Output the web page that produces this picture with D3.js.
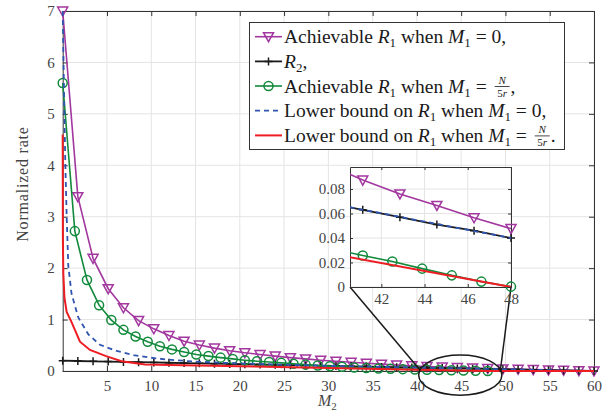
<!DOCTYPE html>
<meta charset="utf-8">
<style>
body { margin: 0; background: #fff; }
text { font-family: 'Liberation Serif', 'DejaVu Serif', serif; white-space: pre; }
</style>
<body>
<svg width="607" height="414"></svg>
<script src="https://d3js.org/d3.v7.min.js"></script>
<script>

// M2 samples of the triangle and R2 curves
var M2tri = [0, 1.71, 3.43, 5.14, 6.86, 8.57, 10.29, 12, 13.71, 15.43, 17.14, 18.86,
  20.57, 22.29, 24, 25.71, 27.43, 29.14, 30.86, 32.57, 34.29, 36, 37.71, 39.43,
  41.14, 42.86, 44.57, 46.29, 48, 49.71, 51.43, 53.14, 54.86, 56.57, 58.29, 60];
// achievable R1 when M1 = 0
var rateTri = [7.0, 3.39, 2.19, 1.60, 1.23, 0.98, 0.82, 0.69, 0.58, 0.505, 0.445, 0.395,
  0.355, 0.32, 0.29, 0.26, 0.235, 0.21, 0.19, 0.17, 0.15, 0.133, 0.117, 0.101,
  0.0873, 0.076, 0.0666, 0.0565, 0.0477, 0.041, 0.034, 0.027, 0.021, 0.014, 0.007, 0];
// R2
var rateR2 = [0.2, 0.194, 0.189, 0.183, 0.177, 0.171, 0.166, 0.16, 0.154, 0.149, 0.143, 0.137,
  0.131, 0.126, 0.12, 0.114, 0.109, 0.103, 0.097, 0.091, 0.086, 0.08, 0.074, 0.069,
  0.063, 0.057, 0.051, 0.046, 0.04, 0.034, 0.029, 0.023, 0.017, 0.011, 0.006, 0];

// achievable R1 when M1 = N/5r
var M2circ = [0, 1.37, 2.74, 4.11, 5.49, 6.86, 8.23, 9.6, 10.97, 12.34, 13.71, 15.09,
  16.46, 17.83, 19.2, 20.57, 21.94, 23.31, 24.69, 26.06, 27.43, 28.8, 30.17, 31.54,
  32.91, 34.29, 35.66, 37.03, 38.4, 39.77, 41.14, 42.51, 43.89, 45.26, 46.63, 48];
var rateCirc = [5.6, 2.72, 1.77, 1.28, 0.99, 0.80, 0.67, 0.57, 0.48, 0.42, 0.37, 0.32,
  0.29, 0.26, 0.235, 0.21, 0.19, 0.175, 0.158, 0.14, 0.124, 0.108, 0.094, 0.081,
  0.069, 0.058, 0.049, 0.042, 0.036, 0.031, 0.0257, 0.0208, 0.015, 0.0095, 0.0044, 0.0003];

// lower bound on R1 when M1 = 0
var M2lb0 = [0, 0.15, 0.3, 0.45, 0.63, 1.0, 1.76, 2.9, 4.2, 6.1, 8.0, 9.85, 11.7, 14.7,
  18, 22, 26, 30, 35, 40, 45, 48, 52, 56, 60];
var rateLb0 = [7.0, 5.4, 4.0, 3.0, 2.05, 1.5, 1.04, 0.71, 0.51, 0.39, 0.31, 0.26, 0.225, 0.185,
  0.16, 0.138, 0.118, 0.1, 0.083, 0.067, 0.05, 0.04, 0.027, 0.013, 0];

// lower bound on R1 when M1 = N/5r
var M2lb5 = [0, 0.02, 0.07, 0.2, 0.45, 1.0, 1.95, 3.08, 4.9, 6.65, 9.3, 13.6, 20, 30, 40, 48, 60];
var rateLb5 = [4.6, 2.6, 1.9, 1.42, 1.15, 0.95, 0.57, 0.41, 0.29, 0.19, 0.128, 0.113,
  0.092, 0.06, 0.026, 0, 0];

var xTicks = [5, 10, 15, 20, 25, 30, 35, 40, 45, 50, 55, 60];
var yTicks = [0, 1, 2, 3, 4, 5, 6, 7];
var insetXTicks = [42, 44, 46, 48];
var insetYTicks = [0, 0.02, 0.04, 0.06, 0.08];

var purple = "#a2379f", green = "#128a3c", blue = "#2f55b0", red = "#ee1d24", black = "#1a1a1a";

var series = [
  {xs: M2tri, ys: rateTri, color: purple, marker: "tri", width: 1.6},
  {xs: M2tri, ys: rateR2, color: black, marker: "plus", width: 1.8},
  {xs: M2circ, ys: rateCirc, color: green, marker: "circle", width: 1.6},
  {xs: M2lb0, ys: rateLb0, color: blue, dash: "5,4", width: 1.8},
  {xs: M2lb5, ys: rateLb5, color: red, width: 2}
];

var svg = d3.select("svg");
var axisColor = "#333", gridColor = "#e4e4e4", labelColor = "#444";

var x = d3.scaleLinear().domain([0, 60]).range([62.7, 594]);
var y = d3.scaleLinear().domain([0, 7]).range([371, 11]);

function markerD(type) {
  if (type == "tri") return "M-5,-4L5,-4L0,5Z";
  if (type == "plus") return "M-4,0H4M0,-4V4";
  return d3.symbol(d3.symbolCircle, 64)();
}

function drawSeries(g, sx, sy, clipId, keep) {
  series.forEach(function(s) {
    var pts = s.xs.map(function(v, i) { return [v, s.ys[i]]; });
    g.append("path").datum(pts)
      .attr("d", d3.line().x(function(p) { return sx(p[0]); }).y(function(p) { return sy(p[1]); }))
      .attr("fill", "none")
      .attr("stroke", s.color)
      .attr("stroke-width", s.width)
      .attr("stroke-dasharray", s.dash || null)
      .attr("clip-path", clipId ? "url(#" + clipId + ")" : null);
    if (s.marker) {
      g.selectAll(null).data(pts.filter(keep)).enter().append("path")
        .attr("transform", function(p) { return "translate(" + sx(p[0]) + "," + sy(p[1]) + ")"; })
        .attr("d", markerD(s.marker))
        .attr("fill", "none")
        .attr("stroke", s.color)
        .attr("stroke-width", 1.5);
    }
  });
}

// grid
var grid = svg.append("g");
grid.selectAll(null).data(xTicks).enter().append("line")
  .attr("x1", x).attr("x2", x).attr("y1", y(0)).attr("y2", y(7))
  .attr("stroke", gridColor);
grid.selectAll(null).data(yTicks).enter().append("line")
  .attr("y1", y).attr("y2", y).attr("x1", x(0)).attr("x2", x(60))
  .attr("stroke", gridColor);

// axes box with inward ticks
function boxAxes(g, sx, sy, xt, yt, tl, fs, xOff, yOff, fmt) {
  var r = sx.range(), b = sy.range();
  g.append("g").attr("transform", "translate(0," + b[0] + ")")
    .call(d3.axisBottom(sx).tickValues(xt).tickSizeInner(-tl).tickSizeOuter(0).tickPadding(xOff));
  g.append("g").attr("transform", "translate(0," + b[1] + ")")
    .call(d3.axisTop(sx).tickValues(xt).tickSizeInner(-tl).tickSizeOuter(0).tickFormat(""));
  g.append("g").attr("transform", "translate(" + r[0] + ",0)")
    .call(d3.axisLeft(sy).tickValues(yt).tickSizeInner(-tl).tickSizeOuter(0).tickPadding(yOff).tickFormat(fmt));
  g.append("g").attr("transform", "translate(" + r[1] + ",0)")
    .call(d3.axisRight(sy).tickValues(yt).tickSizeInner(-tl).tickSizeOuter(0).tickFormat(""));
  g.selectAll("g").attr("font-family", null);
  g.selectAll(".domain").attr("stroke", axisColor);
  g.selectAll(".tick line").attr("stroke", axisColor);
  g.selectAll(".tick text").attr("fill", labelColor).style("font-size", fs + "px");
}

var mainAxes = svg.append("g");
boxAxes(mainAxes, x, y, xTicks, yTicks, 5, 15, 9, 8, d3.format("d"));

var plot = svg.append("g");
drawSeries(plot, x, y, null, function() { return true; });

// axis titles
svg.append("text")
  .attr("transform", "translate(28,184) rotate(-90)")
  .attr("text-anchor", "middle")
  .attr("fill", labelColor)
  .style("font-size", "16px")
  .style("letter-spacing", "0.8px")
  .text("Normalized rate");

var xl = svg.append("text")
  .attr("x", 318).attr("y", 406)
  .attr("fill", labelColor)
  .style("font-size", "16px");
xl.append("tspan").style("font-style", "italic").text("M");
xl.append("tspan").attr("dy", 4).style("font-size", "11px").text("2");

// zoom ellipse and connectors
svg.append("ellipse")
  .attr("cx", x(44.9)).attr("cy", y(-0.08))
  .attr("rx", x(4.7) - x(0)).attr("ry", y(0) - y(0.39))
  .attr("fill", "none").attr("stroke", black).attr("stroke-width", 1.5);

// inset
var ix = d3.scaleLinear().domain([40.55, 48]).range([350, 511]);
var iy = d3.scaleLinear().domain([0, 0.098]).range([287, 167]);

svg.append("line")
  .attr("x1", ix(40.55)).attr("y1", iy(0)).attr("x2", x(40.35)).attr("y2", y(0.02))
  .attr("stroke", black).attr("stroke-width", 1.5);
svg.append("line")
  .attr("x1", ix(48)).attr("y1", iy(0)).attr("x2", x(49.4)).attr("y2", y(-0.02))
  .attr("stroke", black).attr("stroke-width", 1.5);

var inset = svg.append("g");
inset.append("rect")
  .attr("x", 350).attr("y", 167).attr("width", 161).attr("height", 120)
  .attr("fill", "#fff");
svg.append("clipPath").attr("id", "insetClip").append("rect")
  .attr("x", 350).attr("y", 167).attr("width", 161).attr("height", 120);
inset.selectAll(null).data(insetXTicks).enter().append("line")
  .attr("x1", ix).attr("x2", ix).attr("y1", 287).attr("y2", 167).attr("stroke", gridColor);
inset.selectAll(null).data(insetYTicks).enter().append("line")
  .attr("y1", iy).attr("y2", iy).attr("x1", 350).attr("x2", 511).attr("stroke", gridColor);
boxAxes(inset, ix, iy, insetXTicks, insetYTicks, 3, 15, 6, 5, function(d) { return d == 0 ? "0" : d3.format(".2f")(d); });
drawSeries(inset, ix, iy, "insetClip", function(p) { return p[0] >= 40.55 && p[0] <= 48.01; });

// legend
var lg = svg.append("g");
lg.append("rect")
  .attr("x", 249.5).attr("y", 22.5).attr("width", 315).attr("height", 127)
  .attr("fill", "#fff").attr("stroke", axisColor);

var legendRows = [
  [["Achievable "], ["R", "i"], ["1", "s"], [" when "], ["M", "i"], ["1", "s"], [" = 0,"]],
  [["R", "i"], ["2", "s"], [","]],
  [["Achievable "], ["R", "i"], ["1", "s"], [" when "], ["M", "i"], ["1", "s"], [" = "], ["frac"], [","]],
  [["Lower bound on "], ["R", "i"], ["1", "s"], [" when "], ["M", "i"], ["1", "s"], [" = 0,"]],
  [["Lower bound on "], ["R", "i"], ["1", "s"], [" when "], ["M", "i"], ["1", "s"], [" = "], ["frac"], ["."]]
];
var rowY = [36.7, 61.4, 86, 110.7, 135.4];

series.forEach(function(s, i) {
  var cy = rowY[i];
  lg.append("line").attr("x1", 255).attr("x2", 282).attr("y1", cy).attr("y2", cy)
    .attr("stroke", s.color).attr("stroke-width", s.width).attr("stroke-dasharray", s.dash || null);
  if (s.marker) {
    lg.append("path").attr("transform", "translate(268.5," + cy + ")")
      .attr("d", markerD(s.marker)).attr("fill", "none").attr("stroke", s.color).attr("stroke-width", 1.5);
  }
  var t = lg.append("text").attr("x", 284).attr("y", cy + 6.5)
    .attr("fill", black).style("font-size", "19.5px");
  var shift = 0, parts = legendRows[i];
  for (var j = 0; j < parts.length; j++) {
    var p = parts[j];
    if (p[0] == "frac") {
      // stacked N over 5r
      var x0 = 284 + t.node().getComputedTextLength() + 3;
      var fg = lg.append("g");
      fg.append("text").attr("x", x0 + 7.5).attr("y", cy - 2).attr("text-anchor", "middle")
        .attr("fill", black).style("font-size", "11px").style("font-style", "italic").text("N");
      var td = fg.append("text").attr("x", x0 + 7.5).attr("y", cy + 11).attr("text-anchor", "middle")
        .attr("fill", black).style("font-size", "11px");
      td.append("tspan").text("5");
      td.append("tspan").style("font-style", "italic").text("r");
      fg.append("line").attr("x1", x0).attr("x2", x0 + 15).attr("y1", cy + 0.5).attr("y2", cy + 0.5)
        .attr("stroke", black).attr("stroke-width", 0.8);
      var rest = parts.slice(j + 1).map(function(q) { return q[0]; }).join("");
      lg.append("text").attr("x", x0 + 16).attr("y", cy + 6.5)
        .attr("fill", black).style("font-size", "19.5px").text(rest);
      break;
    }
    var ts = t.append("tspan").text(p[0]);
    var dy = 0;
    if (p[1] == "i") ts.style("font-style", "italic");
    if (p[1] == "s") { ts.style("font-size", "13px"); dy = 4; }
    if (dy - shift) ts.attr("dy", dy - shift);
    shift = dy;
  }
});

</script>
